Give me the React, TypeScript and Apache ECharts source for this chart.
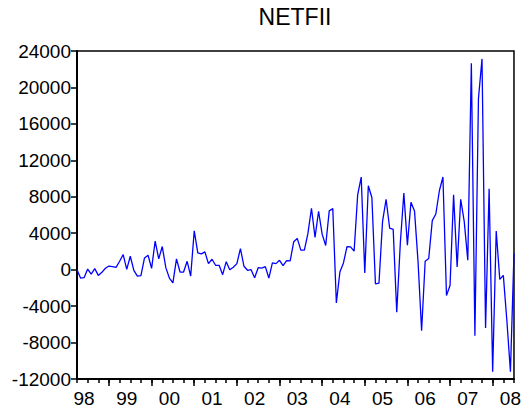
import React, { useEffect, useRef } from "react";
import * as echarts from "echarts";

// Monthly NETFII, April 1998 - July 2008
const START_YEAR = 1998;
const START_MONTH = 4;

const netfii1998 = [0, -920, -880, 70, -480, 110, -630, -290, 150];
const netfii1999 = [400, 330, 260, 920, 1660, 40, 1470, -70, -700, -660, 1290, 1580];
const netfii2000 = [150, 3130, 1180, 2540, 220, -920, -1440, 1180, -260, -260, 920, -700];
const netfii2001 = [4270, 1840, 1730, 1950, 660, 1140, 480, 480, -550, 880, 0, 260];
const netfii2002 = [660, 2320, 370, -70, 0, -880, 220, 180, 330, -920, 740, 660];
const netfii2003 = [1030, 440, 990, 960, 3060, 3430, 2140, 2140, 3980, 6740, 3540, 6410];
const netfii2004 = [3900, 2650, 6450, 6700, -3650, -260, 740, 2540, 2500, 2030, 8210, 10170];
const netfii2005 = [-370, 9210, 7920, -1550, -1470, 5270, 7730, 4570, 4420, -4680, 2870, 8400];
const netfii2006 = [2690, 7400, 6450, 850, -6700, 920, 1220, 5380, 6110, 8660, 10170, -2840];
const netfii2007 = [-1730, 8210, 290, 7730, 5270, 1030, 22650, -7260, 18780, 23130, -6410, 8880];
const netfii2008 = [-11200, 4240, -1070, -630, -5600, -11200, 1770];

const yTicks = [-12000, -8000, -4000, 0, 4000, 8000, 12000, 16000, 20000, 24000];

const values = [
  ...netfii1998, ...netfii1999, ...netfii2000, ...netfii2001, ...netfii2002, ...netfii2003,
  ...netfii2004, ...netfii2005, ...netfii2006, ...netfii2007, ...netfii2008,
];

const months: string[] = values.map((_, i) => {
  const m0 = START_MONTH - 1 + i;
  const y = START_YEAR + Math.floor(m0 / 12);
  const m = (m0 % 12) + 1;
  return `${y}-${m < 10 ? "0" + m : m}`;
});

const monthOf = (v: string) => parseInt(v.slice(5), 10);

const FONT = "'Liberation Sans', Arial, sans-serif";

export default function App() {
  const ref = useRef<HTMLDivElement>(null);
  useEffect(() => {
    if (!ref.current) return;
    const chart = echarts.init(ref.current, undefined, { renderer: "svg" });
    chart.setOption({
      animation: false,
      backgroundColor: "#fff",
      graphic: [
        {
          type: "text",
          x: 295,
          y: 17,
          style: {
            text: "NETFII",
            fontFamily: FONT,
            fontSize: 23,
            fill: "#000",
            textAlign: "center",
            textVerticalAlign: "middle",
          },
        },
      ],
      grid: {
        left: 77,
        right: 8,
        top: 51,
        bottom: 36,
        show: true,
        borderColor: "#000",
        borderWidth: 1.5,
      },
      xAxis: [
        {
          type: "category",
          data: months,
          boundaryGap: false,
          axisLine: { show: true, onZero: false, lineStyle: { color: "#000", width: 2 } },
          axisTick: {
            show: true,
            interval: (_i: number, v: string) => (monthOf(v) - 1) % 3 === 0,
            length: 4,
            lineStyle: { color: "#000", width: 1.5 },
          },
          axisLabel: {
            interval: (_i: number, v: string) => monthOf(v) === 6,
            formatter: (v: string) => v.slice(2, 4),
            color: "#000",
            fontFamily: FONT,
            fontSize: 19,
            margin: 10,
          },
          splitLine: { show: false },
        },
        {
          type: "category",
          data: months,
          boundaryGap: false,
          position: "bottom",
          axisLine: { show: false, onZero: false },
          axisTick: {
            show: true,
            interval: (_i: number, v: string) => monthOf(v) === 1,
            length: 7,
            lineStyle: { color: "#000", width: 1.5 },
          },
          axisLabel: { show: false },
          splitLine: { show: false },
        },
      ],
      yAxis: {
        type: "value",
        min: yTicks[0],
        max: yTicks[yTicks.length - 1],
        interval: 4000,
        axisLine: { show: true, onZero: false, lineStyle: { color: "#000", width: 2 } },
        axisTick: { show: true, length: 6, lineStyle: { color: "#000", width: 1.5 } },
        axisLabel: {
          color: "#000",
          fontFamily: FONT,
          fontSize: 19,
          margin: 6,
          formatter: (v: number) => String(v),
        },
        splitLine: { show: false },
      },
      series: [
        {
          type: "line",
          data: values,
          xAxisIndex: 0,
          showSymbol: false,
          symbol: "none",
          lineStyle: { color: "#0000ff", width: 1.3 },
        },
      ],
    });
    return () => chart.dispose();
  }, []);
  return (
    <div
      ref={ref}
      style={{ position: "absolute", left: 0, top: 0, width: 524, height: 415 }}
    />
  );
}
